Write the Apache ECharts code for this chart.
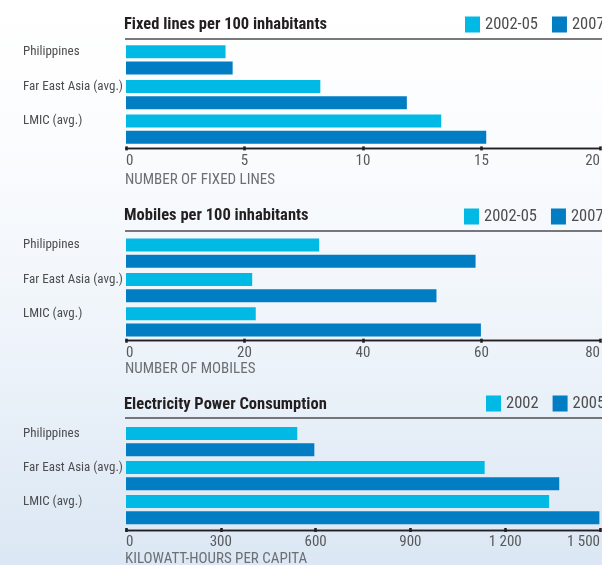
<!DOCTYPE html>
<html>
<head>
<meta charset="utf-8">
<script src="https://cdn.jsdelivr.net/npm/echarts@6/dist/echarts.min.js"></script>
<style>
  html, body { margin: 0; padding: 0; overflow: hidden; width: 602px; height: 565px; }
  /* the chart is a bit wider than the window so the legend can run off the right edge */
  #chart {
    width: 660px;
    height: 565px;
    background: linear-gradient(to bottom, #ffffff 0%, #fbfcfe 25%, #eef4fa 60%, #dbe7f4 100%);
  }
</style>
</head>
<body>
<div id="chart"></div>
<script>
const categories = ['Philippines', 'Far East Asia (avg.)', 'LMIC (avg.)']

const fixedNames = ['2002-05', '2007']
const fixed2002 = [4.2, 8.2, 13.3]
const fixed2007 = [4.5, 11.85, 15.2]

const mobileNames = ['2002-05', '2007']
const mobile2002 = [32.6, 21.3, 21.9]
const mobile2007 = [59.0, 52.4, 59.9]

const powerNames = ['2002', '2005']
const power2002 = [542, 1135, 1339]
const power2005 = [596, 1371, 1498]

const titles = ['Fixed lines per 100 inhabitants', 'Mobiles per 100 inhabitants', 'Electricity Power Consumption']
const axisNames = ['NUMBER OF FIXED LINES', 'NUMBER OF MOBILES', 'KILOWATT-HOURS PER CAPITA']
const axisMax = [20, 80, 1500]
const axisStep = [5, 20, 300]

const LIGHT = '#00b9e4'
const DARK = '#007dc3'
const FONT = '"Roboto Condensed", "Open Sans", sans-serif'

// panel layout: grid top / height, axis offset, title top, legend left/top, axis name top, rule y
const panels = [
  { top: 42.4, height: 104.2, offset: 1.8, titleTop: 16.5, legendLeft: 465, legendTop: 16, nameTop: 173, rule: 39 },
  { top: 236, height: 103.1, offset: 1.6, titleTop: 207.5, legendLeft: 464, legendTop: 208, nameTop: 362, rule: 231 },
  { top: 424.5, height: 102, offset: 3.5, titleTop: 396.5, legendLeft: 486, legendTop: 395, nameTop: 552, rule: 418 }
]

const seriesData = [
  [fixed2002, fixed2007, fixedNames],
  [mobile2002, mobile2007, mobileNames],
  [power2002, power2005, powerNames]
]

const chart = echarts.init(document.getElementById('chart'))

const grid = []
const xAxis = []
const yAxis = []
const series = []
const title = []
const legend = []
const graphic = []

panels.forEach((p, i) => {
  grid.push({ left: 126, width: 474, top: p.top, height: p.height })

  const axisBase = {
    type: 'value',
    gridIndex: i,
    min: 0,
    max: axisMax[i],
    interval: axisStep[i],
    position: 'bottom',
    offset: p.offset,
    splitLine: { show: false },
    axisLine: { show: true, lineStyle: { color: '#231f20', width: 1.4 } }
  }
  // main axis: outer tick half + labels
  xAxis.push(Object.assign({}, axisBase, {
    axisTick: { show: true, length: 2, lineStyle: { color: '#231f20', width: 2.6 } },
    axisLabel: {
      margin: 5,
      color: '#58595b',
      fontFamily: FONT,
      fontSize: 15,
      alignMinLabel: 'left',
      alignMaxLabel: 'right',
      formatter: v => String(v).replace(/\B(?=(\d{3})+(?!\d))/g, ' ')
    }
  }))
  // overlay axis: inner tick half so ticks look like dots on the line
  xAxis.push(Object.assign({}, axisBase, {
    axisTick: { show: true, inside: true, length: 2, lineStyle: { color: '#231f20', width: 2.6 } },
    axisLabel: { show: false }
  }))

  yAxis.push({
    type: 'category',
    gridIndex: i,
    inverse: true,
    data: categories,
    axisLine: { show: false },
    axisTick: { show: false },
    axisLabel: {
      align: 'left',
      margin: 103,
      verticalAlign: 'bottom',
      lineHeight: 16,
      overflow: 'none',
      color: '#4d4d4f',
      fontFamily: FONT,
      fontSize: 13
    }
  })

  const [a, b, names] = seriesData[i]
  series.push({
    name: names[0], type: 'bar', xAxisIndex: i * 2, yAxisIndex: i,
    data: a, barWidth: 13, barGap: '25%',
    itemStyle: { color: LIGHT }, silent: true
  })
  series.push({
    name: names[1], type: 'bar', xAxisIndex: i * 2, yAxisIndex: i,
    data: b, barWidth: 13, barGap: '25%',
    itemStyle: { color: DARK }, silent: true
  })

  title.push({
    text: titles[i], left: 124, top: p.titleTop, padding: 0,
    textStyle: { fontFamily: FONT, fontSize: 16.5, fontWeight: 'bold', color: '#231f20' }
  })
  title.push({
    text: axisNames[i], left: 125, top: p.nameTop, padding: 0,
    textStyle: { fontFamily: FONT, fontSize: 15, fontWeight: 'normal', color: '#6d6e71' }
  })

  legend.push({
    left: p.legendLeft, top: p.legendTop, padding: 0,
    data: names, icon: 'rect', itemWidth: 15, itemHeight: 16, itemGap: 14,
    selectedMode: false,
    textStyle: { fontFamily: FONT, fontSize: 16.5, color: '#4d4d4f' }
  })

  graphic.push({
    type: 'line',
    shape: { x1: 125, y1: p.rule, x2: 602, y2: p.rule },
    style: { stroke: '#4d4d4f', lineWidth: 1.5 },
    silent: true
  })
})

chart.setOption({
  animation: false,
  color: [LIGHT, DARK],
  title,
  legend,
  grid,
  xAxis,
  yAxis,
  series,
  graphic
})
</script>
</body>
</html>
